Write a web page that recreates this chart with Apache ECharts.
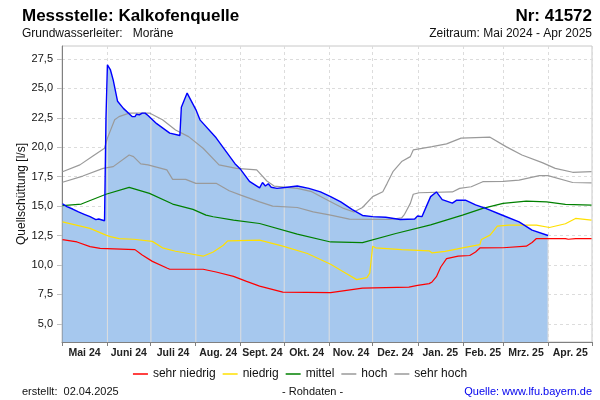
<!DOCTYPE html>
<html>
<head>
<meta charset="utf-8">
<script src="https://cdn.jsdelivr.net/npm/echarts@6/dist/echarts.min.js"></script>
<style>
  html, body { margin: 0; padding: 0; background: #fff; }
  #chart { width: 600px; height: 400px; }
</style>
</head>
<body>
<div id="chart"></div>
<script>
// ---------- data ----------
const monthLabels = ['Mai 24','Juni 24','Juli 24','Aug. 24','Sept. 24','Okt. 24','Nov. 24','Dez. 24','Jan. 25','Feb. 25','Mrz. 25','Apr. 25'];
const yTickValues = [5, 7.5, 10, 12.5, 15, 17.5, 20, 22.5, 25, 27.5];

const messwerte = [
  ['2024-05-01',15.2],['2024-05-04',14.95],['2024-05-08',14.75],['2024-05-12',14.5],['2024-05-16',14.3],
  ['2024-05-20',14.1],['2024-05-24',13.85],['2024-05-26',13.9],['2024-05-27',13.75],['2024-05-30',13.75],
  ['2024-05-31',22.5],['2024-06-01',27.0],['2024-06-02',27.1],['2024-06-03',26.6],['2024-06-05',25.7],
  ['2024-06-08',23.9],['2024-06-12',23.3],['2024-06-18',22.6],['2024-06-20',22.6],['2024-06-21',22.8],
  ['2024-06-22',22.7],['2024-06-23',22.75],['2024-06-25',22.9],['2024-06-27',22.9],['2024-06-29',22.7],
  ['2024-07-05',22.0],['2024-07-14',21.2],['2024-07-21',21.0],['2024-07-22',23.4],['2024-07-26',24.6],
  ['2024-08-01',23.2],['2024-08-04',22.3],['2024-08-15',20.8],['2024-08-28',18.6],['2024-09-01',18.1],
  ['2024-09-07',17.1],['2024-09-14',16.55],['2024-09-16',17.0],['2024-09-18',16.7],['2024-09-20',16.9],
  ['2024-09-22',16.6],['2024-09-26',16.5],['2024-10-03',16.6],['2024-10-10',16.7],['2024-10-18',16.5],
  ['2024-10-26',16.2],['2024-11-02',15.8],['2024-11-09',15.35],['2024-11-17',14.7],['2024-11-24',14.2],
  ['2024-12-01',14.1],['2024-12-10',14.05],['2024-12-20',13.86],['2024-12-30',13.9],['2025-01-01',14.15],
  ['2025-01-04',14.1],['2025-01-07',14.95],['2025-01-10',15.8],['2025-01-14',16.2],['2025-01-15',16.1],
  ['2025-01-18',15.55],['2025-01-25',15.25],['2025-01-28',15.5],['2025-02-03',15.5],['2025-02-10',15.1],
  ['2025-02-17',14.8],['2025-03-01',14.2],['2025-03-12',13.65],['2025-03-21',12.95],['2025-04-01',12.5]
];

const sehrNiedrig = [
  ['2024-05-01',12.15],['2024-05-11',11.95],['2024-05-20',11.55],['2024-05-27',11.4],['2024-06-20',11.3],
  ['2024-06-25',10.85],['2024-07-02',10.3],['2024-07-12',9.74],['2024-07-14',9.63],['2024-08-06',9.63],
  ['2024-08-15',9.4],['2024-08-27',9.03],['2024-09-05',8.6],['2024-09-14',8.2],['2024-09-30',7.69],
  ['2024-11-02',7.64],['2024-11-24',8.03],['2024-12-26',8.12],['2025-01-01',8.26],['2025-01-09',8.41],
  ['2025-01-11',8.55],['2025-01-14',9.0],['2025-01-17',9.82],['2025-01-21',10.54],['2025-01-29',10.74],
  ['2025-02-06',10.8],['2025-02-10',11.1],['2025-02-13',11.44],['2025-03-01',11.46],['2025-03-17',11.59],
  ['2025-03-21',11.9],['2025-03-24',12.24],['2025-04-13',12.24],['2025-04-15',12.18],['2025-04-20',12.24],
  ['2025-05-01',12.24]
];

const niedrig = [
  ['2024-05-01',13.66],['2024-05-20',13.1],['2024-05-31',12.53],['2024-06-03',12.4],['2024-06-09',12.24],
  ['2024-06-19',12.18],['2024-07-02',12.0],['2024-07-09',11.45],['2024-07-18',11.16],['2024-07-27',10.97],
  ['2024-08-06',10.74],['2024-08-13',11.1],['2024-08-20',11.67],['2024-08-23',12.04],['2024-09-14',12.1],
  ['2024-09-30',11.59],['2024-10-17',10.97],['2024-11-02',10.05],['2024-11-11',9.4],['2024-11-20',8.75],
  ['2024-11-27',8.92],['2024-11-29',9.3],['2024-12-01',11.59],['2024-12-03',11.45],['2024-12-21',11.3],
  ['2025-01-09',11.2],['2025-01-11',11.02],['2025-01-20',11.15],['2025-02-01',11.44],['2025-02-13',11.73],
  ['2025-02-14',12.16],['2025-02-20',12.53],['2025-02-25',13.29],['2025-03-05',13.38],['2025-03-24',13.38],
  ['2025-04-02',13.18],['2025-04-13',13.5],['2025-04-20',13.95],['2025-05-01',13.8]
];

const mittel = [
  ['2024-05-01',15.03],['2024-05-14',15.17],['2024-05-31',16.0],['2024-06-16',16.59],['2024-06-30',16.08],
  ['2024-07-16',15.17],['2024-07-30',14.72],['2024-08-08',14.23],['2024-08-13',14.09],['2024-08-27',13.8],
  ['2024-09-14',13.52],['2024-10-10',12.61],['2024-11-02',11.95],['2024-11-24',11.9],['2024-12-17',12.67],
  ['2025-01-10',13.4],['2025-02-01',14.23],['2025-02-15',14.8],['2025-03-01',15.23],['2025-03-17',15.42],
  ['2025-03-31',15.36],['2025-04-13',15.14],['2025-05-01',15.08]
];

const hoch = [
  ['2024-05-01',17.02],['2024-05-15',17.55],['2024-05-29',18.2],['2024-06-05',18.35],['2024-06-16',19.34],
  ['2024-06-19',19.2],['2024-06-24',18.58],['2024-06-29',18.5],['2024-07-12',18.07],['2024-07-16',17.27],
  ['2024-07-25',17.27],['2024-08-01',16.93],['2024-08-15',16.93],['2024-08-24',16.3],['2024-09-01',15.93],
  ['2024-09-14',15.36],['2024-09-23',15.0],['2024-10-10',14.88],['2024-10-21',14.5],['2024-11-02',14.23],
  ['2024-11-15',13.89],['2024-12-13',13.86],['2024-12-21',14.0],['2024-12-23',14.3],['2024-12-27',15.23],
  ['2024-12-29',16.0],['2025-01-02',16.13],['2025-01-25',16.2],['2025-01-30',16.5],['2025-02-07',16.64],
  ['2025-02-15',17.07],['2025-03-01',17.1],['2025-03-12',17.2],['2025-03-26',17.58],['2025-04-01',17.58],
  ['2025-04-18',17.0],['2025-05-01',16.97]
];

const sehrHoch = [
  ['2024-05-01',17.92],['2024-05-13',18.5],['2024-05-22',19.26],['2024-05-30',19.91],['2024-06-01',20.77],
  ['2024-06-06',22.33],['2024-06-09',22.6],['2024-06-16',22.9],['2024-06-30',22.9],['2024-07-09',22.33],
  ['2024-07-18',21.47],['2024-07-27',20.9],['2024-08-06',19.91],['2024-08-17',18.5],['2024-08-29',18.2],
  ['2024-09-12',18.07],['2024-09-19',17.13],['2024-09-24',16.7],['2024-10-10',16.5],['2024-10-20',16.22],
  ['2024-10-31',15.5],['2024-11-11',14.8],['2024-11-18',14.5],['2024-11-24',14.88],['2024-12-01',15.8],
  ['2024-12-08',16.22],['2024-12-11',16.93],['2024-12-15',17.92],['2024-12-21',18.78],['2024-12-27',19.2],
  ['2024-12-29',19.77],['2025-01-11',20.05],['2025-01-21',20.28],['2025-01-31',20.77],['2025-02-20',20.85],
  ['2025-03-03',20.05],['2025-03-14',19.34],['2025-03-28',18.69],['2025-04-06',18.2],['2025-04-18',17.87],
  ['2025-05-01',17.92]
];

// ---------- helpers ----------
function ts(s) { const p = s.split('-'); return new Date(+p[0], +p[1] - 1, +p[2]).getTime(); }
const monthStarts = [];
for (let i = 0; i <= 12; i++) monthStarts.push(new Date(2024, 4 + i, 1).getTime());
const monthMids = [];
for (let i = 0; i < 12; i++) monthMids.push((monthStarts[i] + monthStarts[i + 1]) / 2);

function toTs(arr) { return arr.map(d => [ts(d[0]), d[1]]); }
const messTs = toTs(messwerte);

// light vertical month separators drawn inside the filled area (height = measured value at that date)
function valueAt(t) {
  for (let i = 0; i < messTs.length - 1; i++) {
    const a = messTs[i], b = messTs[i + 1];
    if (t >= a[0] && t <= b[0]) return a[1] + (b[1] - a[1]) * (t - a[0]) / (b[0] - a[0]);
  }
  return null;
}
const sepBars = monthStarts.slice(1, 12).map(t => [t, valueAt(t)]).filter(d => d[1] !== null);

const FONT = '"Liberation Sans", Arial, sans-serif';

const chart = echarts.init(document.getElementById('chart'), null, { renderer: 'canvas' });

const lineSeries = (name, data, color, width) => ({
  name, type: 'line', data: toTs(data), showSymbol: false, symbol: 'none',
  lineStyle: { color, width }, itemStyle: { color }, animation: false, silent: true, z: 4
});

chart.setOption({
  animation: false,
  textStyle: { fontFamily: FONT },
  grid: { left: 62, right: 8, top: 46, bottom: 58, show: true, borderColor: '#c8c8c8', borderWidth: 1, containLabel: false },
  xAxis: [
    {
      type: 'time', min: monthStarts[0], max: monthStarts[12],
      axisLine: { show: false }, axisTick: { show: false }, axisLabel: { show: false }, splitLine: { show: false }
    },
    {
      type: 'value', min: monthStarts[0], max: monthStarts[12], position: 'bottom',
      axisLine: { show: true, onZero: false, lineStyle: { color: '#808080', width: 1 } },
      axisTick: { show: true, length: 4, lineStyle: { color: '#808080' }, customValues: monthStarts },
      axisLabel: {
        customValues: monthMids, margin: 6, color: '#222', fontSize: 10.5, fontWeight: 'bold', fontFamily: FONT,
        formatter: function (v) {
          let best = 0, bd = Infinity;
          monthMids.forEach((m, i) => { const d = Math.abs(m - v); if (d < bd) { bd = d; best = i; } });
          return monthLabels[best];
        }
      },
      splitLine: { show: true, lineStyle: { color: '#dcdcdc', type: [3, 3], width: 1 } }
    }
  ],
  yAxis: {
    type: 'value', min: 3.45, max: 28.6,
    name: 'Quellschüttung [l/s]', nameLocation: 'middle', nameGap: 34, nameRotate: 90, nameMoveOverlap: false,
    nameTextStyle: { fontSize: 12, color: '#111', fontFamily: FONT },
    axisLine: { show: true, lineStyle: { color: '#808080', width: 1 } },
    axisTick: { show: true, length: 5, lineStyle: { color: '#c0c0c0' }, customValues: yTickValues },
    axisLabel: {
      customValues: yTickValues, margin: 9, color: '#111', fontSize: 11, fontFamily: FONT,
      formatter: v => v.toFixed(1).replace('.', ',')
    },
    splitLine: { show: true, lineStyle: { color: '#dcdcdc', type: [3, 3], width: 1 } }
  },
  legend: {
    data: ['sehr niedrig', 'niedrig', 'mittel', 'hoch', 'sehr hoch'],
    left: 'center', top: 363, icon: 'rect', itemWidth: 15, itemHeight: 1.5, itemGap: 7,
    textStyle: { fontSize: 12, color: '#111', fontFamily: FONT }, selectedMode: false
  },
  graphic: [
    { type: 'text', left: 22, top: 8, style: { text: 'Messstelle: Kalkofenquelle', font: 'bold 17px ' + FONT, fill: '#000' } },
    { type: 'text', right: 8, top: 8, style: { text: 'Nr: 41572', font: 'bold 17px ' + FONT, fill: '#000' } },
    { type: 'text', left: 22, top: 28, style: { text: 'Grundwasserleiter:   Moräne', font: '12px ' + FONT, fill: '#111' } },
    { type: 'text', right: 8, top: 28, style: { text: 'Zeitraum: Mai 2024 - Apr 2025', font: '12px ' + FONT, fill: '#111' } },
    { type: 'text', left: 22, top: 386, style: { text: 'erstellt:  02.04.2025', font: '11px ' + FONT, fill: '#111' } },
    { type: 'text', left: 282, top: 386, style: { text: '- Rohdaten -', font: '11px ' + FONT, fill: '#111' } },
    { type: 'text', right: 8, top: 386, style: { text: 'Quelle: www.lfu.bayern.de', font: '11px ' + FONT, fill: '#0000ee' } }
  ],
  series: [
    {
      name: 'Messwerte', type: 'line', data: messTs, showSymbol: false, symbol: 'none',
      lineStyle: { width: 0, color: '#0000ff' }, areaStyle: { color: '#a6c8ee', opacity: 1, origin: 'start' },
      silent: true, z: 2
    },
    {
      name: 'sep', type: 'bar', data: sepBars, barWidth: 1, itemStyle: { color: '#dedede' },
      silent: true, z: 3
    },
    lineSeries('sehr niedrig', sehrNiedrig, '#ff0000', 1.2),
    lineSeries('niedrig', niedrig, '#ffe000', 1.2),
    lineSeries('mittel', mittel, '#008000', 1.2),
    lineSeries('hoch', hoch, '#9a9a9a', 1.2),
    lineSeries('sehr hoch', sehrHoch, '#9a9a9a', 1.2),
    {
      name: 'Messlinie', type: 'line', data: messTs, showSymbol: false, symbol: 'none',
      lineStyle: { width: 1.4, color: '#0000ff' }, silent: true, z: 5
    }
  ]
});
</script>
</body>
</html>
